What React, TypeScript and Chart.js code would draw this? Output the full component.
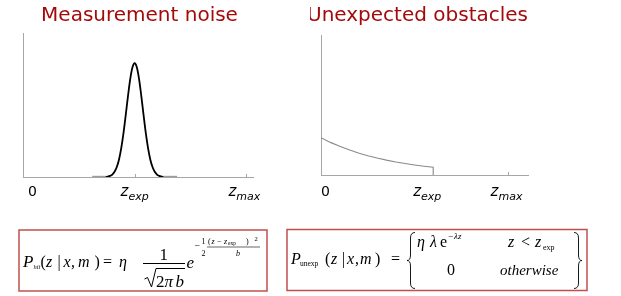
import { useEffect, useRef } from "react";
import { Chart, registerables } from "chart.js";

Chart.register(...registerables);

// ---- data ----
const noiseZ = [0.31, 0.34, 0.37, 0.38, 0.39, 0.4, 0.41, 0.42, 0.43, 0.44, 0.45, 0.46, 0.47, 0.48, 0.49, 0.5, 0.51, 0.52, 0.53, 0.54, 0.55, 0.56, 0.57, 0.58, 0.59, 0.6, 0.61, 0.62, 0.63, 0.66, 0.69];
const noiseP = [0, 0, 0, 0.003, 0.008, 0.017, 0.036, 0.069, 0.122, 0.2, 0.304, 0.429, 0.56, 0.678, 0.76, 0.79, 0.76, 0.678, 0.56, 0.429, 0.304, 0.2, 0.122, 0.069, 0.036, 0.017, 0.008, 0.003, 0, 0, 0];

const obstacleZ = [0, 0.05, 0.1, 0.15, 0.2, 0.25, 0.3, 0.35, 0.4, 0.45, 0.5, 0.55, 0.6, 0.6];
const obstacleP = [0.266, 0.233, 0.205, 0.18, 0.157, 0.138, 0.121, 0.106, 0.093, 0.082, 0.072, 0.063, 0.055, 0];

const noiseTicks = [0, 0.5, 1];
const obstacleTicks = [0, 0.6, 1];
const tickMain = ["0", "z", "z"];
const tickSub = ["", "exp", "max"];

const titles = ["Measurement noise", "Unexpected obstacles"];

const SANS = "'DejaVu Sans', Verdana, sans-serif";
const SERIF = "'Liberation Serif', 'Times New Roman', serif";

const annotate = {
  id: "annotate",
  afterDraw(chart: any, _args: any, opts: any) {
    const { ctx } = chart;
    const xs = chart.scales.x;
    const bottom = chart.chartArea.bottom;
    ctx.save();
    ctx.textBaseline = "alphabetic";
    // title
    ctx.font = `20px ${SANS}`;
    ctx.fillStyle = "#a30b0b";
    ctx.textAlign = "center";
    ctx.fillText(opts.title, opts.titleX, opts.titleY);
    ctx.textAlign = "left";
    (opts.ticks as number[]).forEach((v, i) => {
      const px = xs.getPixelForValue(v);
      if (i > 0) {
        ctx.strokeStyle = "#a6a6a6";
        ctx.lineWidth = 1;
        ctx.beginPath();
        ctx.moveTo(Math.round(px) + 0.5, Math.round(bottom));
        ctx.lineTo(Math.round(px) + 0.5, Math.round(bottom) - 3);
        ctx.stroke();
      }
      const main = tickMain[i];
      const sub = tickSub[i];
      const mainFont = sub ? `italic 15px ${SANS}` : `14px ${SANS}`;
      const subFont = `italic 11px ${SANS}`;
      ctx.font = mainFont;
      const w1 = ctx.measureText(main).width;
      ctx.font = subFont;
      const w2 = sub ? ctx.measureText(sub).width : 0;
      const cx = px + opts.labelDx[i];
      const x0 = cx - (w1 + w2) / 2;
      ctx.fillStyle = "#000";
      ctx.font = mainFont;
      ctx.fillText(main, x0, opts.labelY);
      if (sub) {
        ctx.font = subFont;
        ctx.fillText(sub, x0 + w1, opts.labelY + 4);
      }
    });
    ctx.restore();
  },
};

function axisOpts(min: number, max: number) {
  return {
    type: "linear" as const,
    min,
    max,
    grid: { display: false, drawTicks: false },
    ticks: { display: false },
    border: { display: true, color: "#a6a6a6", width: 1 },
  };
}

function PlotCanvas(props: { kind: "noise" | "obstacle"; left: number; width: number }) {
  const ref = useRef<HTMLCanvasElement | null>(null);
  useEffect(() => {
    if (!ref.current) return;
    const isNoise = props.kind === "noise";
    const xs = isNoise ? noiseZ : obstacleZ;
    const ys = isNoise ? noiseP : obstacleP;
    const chart = new Chart(ref.current, {
      type: "line",
      data: {
        datasets: [
          {
            data: xs.map((x, i) => ({ x, y: ys[i] })),
            borderColor: isNoise ? "#000000" : "#8a8a8a",
            borderWidth: isNoise ? 1.8 : 1.1,
            pointRadius: 0,
            fill: false,
            cubicInterpolationMode: isNoise ? "monotone" : "default",
            tension: 0,
            segment: isNoise
              ? {
                  borderColor: (c: any) =>
                    c.p0.parsed.y <= 0.001 && c.p1.parsed.y <= 0.001 ? "#9c9c9c" : undefined,
                  borderWidth: (c: any) =>
                    c.p0.parsed.y <= 0.001 && c.p1.parsed.y <= 0.001 ? 2.4 : undefined,
                }
              : undefined,
          } as any,
        ],
      },
      options: {
        animation: false,
        responsive: false,
        events: [],
        layout: {
          padding: isNoise
            ? { left: 23, top: 33, right: 57, bottom: 33 }
            : { left: 11, top: 35, right: 93, bottom: 35 },
        },
        scales: {
          x: axisOpts(0, isNoise ? 1.03 : 1.107),
          y: axisOpts(0, 1),
        },
        plugins: {
          legend: { display: false },
          tooltip: { enabled: false },
          title: { display: false },
          annotate: {
            title: isNoise ? titles[0] : titles[1],
            titleX: isNoise ? 139.5 : 107.5,
            titleY: 20.5,
            ticks: isNoise ? noiseTicks : obstacleTicks,
            labelDx: isNoise ? [9.5, 0, -2] : [4.5, -6, -1.5],
            labelY: 196,
          },
        } as any,
      },
      plugins: [annotate],
    });
    return () => chart.destroy();
  }, [props.kind]);
  return (
    <canvas
      ref={ref}
      width={props.width}
      height={210}
      style={{ position: "absolute", left: props.left, top: 0, width: props.width, height: 210 }}
    />
  );
}

function Formulas() {
  const it = { fontStyle: "italic" } as const;
  return (
    <svg
      width={621}
      height={296}
      style={{ position: "absolute", left: 0, top: 0 }}
      fontFamily={SERIF}
      fill="#000"
    >
      {/* left box */}
      <rect x={19} y={230} width={248} height={61} fill="none" stroke="#c0504d" strokeWidth={1.5} />
      <text x={23} y={266.5} fontSize={17} style={it}>P</text>
      <text x={33.5} y={268.5} fontSize={6.5} style={it}>hit</text>
      <text y={266.5} fontSize={16}>
        <tspan x={40.5}>(</tspan>
        <tspan x={46} style={it}>z</tspan>
        <tspan x={57.5}>|</tspan>
        <tspan x={63.5} style={it}>x</tspan>
        <tspan x={71}>,</tspan>
        <tspan x={78} style={it}>m</tspan>
        <tspan x={94.5}>)</tspan>
        <tspan x={103}>=</tspan>
        <tspan x={119} style={it}>η</tspan>
      </text>
      <text x={159.5} y={260} fontSize={17}>1</text>
      <line x1={143} x2={185} y1={263.5} y2={263.5} stroke="#000" strokeWidth={1} />
      <path d="M144.5,279 L147.5,277.5 L151.5,287 L156,268.5 L185,268.5" fill="none" stroke="#000" strokeWidth={1} />
      <text y={286.5} fontSize={17}>
        <tspan x={156}>2</tspan>
        <tspan x={164.5} style={it}>π</tspan>
        <tspan x={175.5} style={it}>b</tspan>
      </text>
      <text x={186.5} y={268} fontSize={17} style={it}>e</text>
      <text x={194.5} y={248.5} fontSize={10}>−</text>
      <text x={201.5} y={243.5} fontSize={8}>1</text>
      <text x={201.5} y={256} fontSize={8}>2</text>
      <text y={243.5} fontSize={8}>
        <tspan x={208}>(</tspan>
        <tspan x={211.5} style={it}>z</tspan>
        <tspan x={217}>−</tspan>
        <tspan x={224} style={it}>z</tspan>
        <tspan x={228} fontSize={5.5} dy={1}>exp</tspan>
        <tspan x={246} dy={-1}>)</tspan>
      </text>
      <text x={254.5} y={240.5} fontSize={6.5}>2</text>
      <line x1={207} x2={260} y1={247} y2={247} stroke="#000" strokeWidth={0.6} />
      <text x={236} y={256} fontSize={8} style={it}>b</text>

      {/* right box */}
      <rect x={287} y={229.5} width={300} height={61} fill="none" stroke="#c0504d" strokeWidth={1.5} />
      <text x={291} y={263.5} fontSize={16} style={it}>P</text>
      <text x={300} y={265.5} fontSize={7.5}>unexp</text>
      <text y={264} fontSize={16}>
        <tspan x={325}>(</tspan>
        <tspan x={331} style={it}>z</tspan>
        <tspan x={342}>|</tspan>
        <tspan x={347} style={it}>x</tspan>
        <tspan x={355}>,</tspan>
        <tspan x={360} style={it}>m</tspan>
        <tspan x={375}>)</tspan>
        <tspan x={391}>=</tspan>
      </text>
      <path
        d="M415,232.5 Q410.5,232.5 410.5,238 L410.5,255 Q410.5,260.5 407,260.5 Q410.5,260.5 410.5,266 L410.5,283 Q410.5,288.5 415,288.5"
        fill="none"
        stroke="#000"
        strokeWidth={0.9}
      />
      <path
        d="M574,232.5 Q578.5,232.5 578.5,238 L578.5,255 Q578.5,260.5 582,260.5 Q578.5,260.5 578.5,266 L578.5,283 Q578.5,288.5 574,288.5"
        fill="none"
        stroke="#000"
        strokeWidth={0.9}
      />
      <text y={246.5} fontSize={16}>
        <tspan x={417} style={it}>η</tspan>
        <tspan x={430} style={it}>λ</tspan>
        <tspan x={440}>e</tspan>
      </text>
      <text y={239} fontSize={9}>
        <tspan x={448}>−</tspan>
        <tspan x={454} style={it}>λz</tspan>
      </text>
      <text y={247} fontSize={16}>
        <tspan x={508} style={it}>z</tspan>
        <tspan x={521}>&lt;</tspan>
        <tspan x={535} style={it}>z</tspan>
      </text>
      <text x={543} y={249.5} fontSize={8}>exp</text>
      <text x={447} y={275} fontSize={16}>0</text>
      <text x={500} y={275} fontSize={15} style={it}>otherwise</text>
    </svg>
  );
}

export default function App() {
  return (
    <div
      style={{
        position: "absolute",
        left: 0,
        top: 0,
        width: 621,
        height: 296,
        background: "#ffffff",
        overflow: "hidden",
      }}
    >
      <PlotCanvas kind="noise" left={0} width={310} />
      <PlotCanvas kind="obstacle" left={310} width={311} />
      <Formulas />
    </div>
  );
}
